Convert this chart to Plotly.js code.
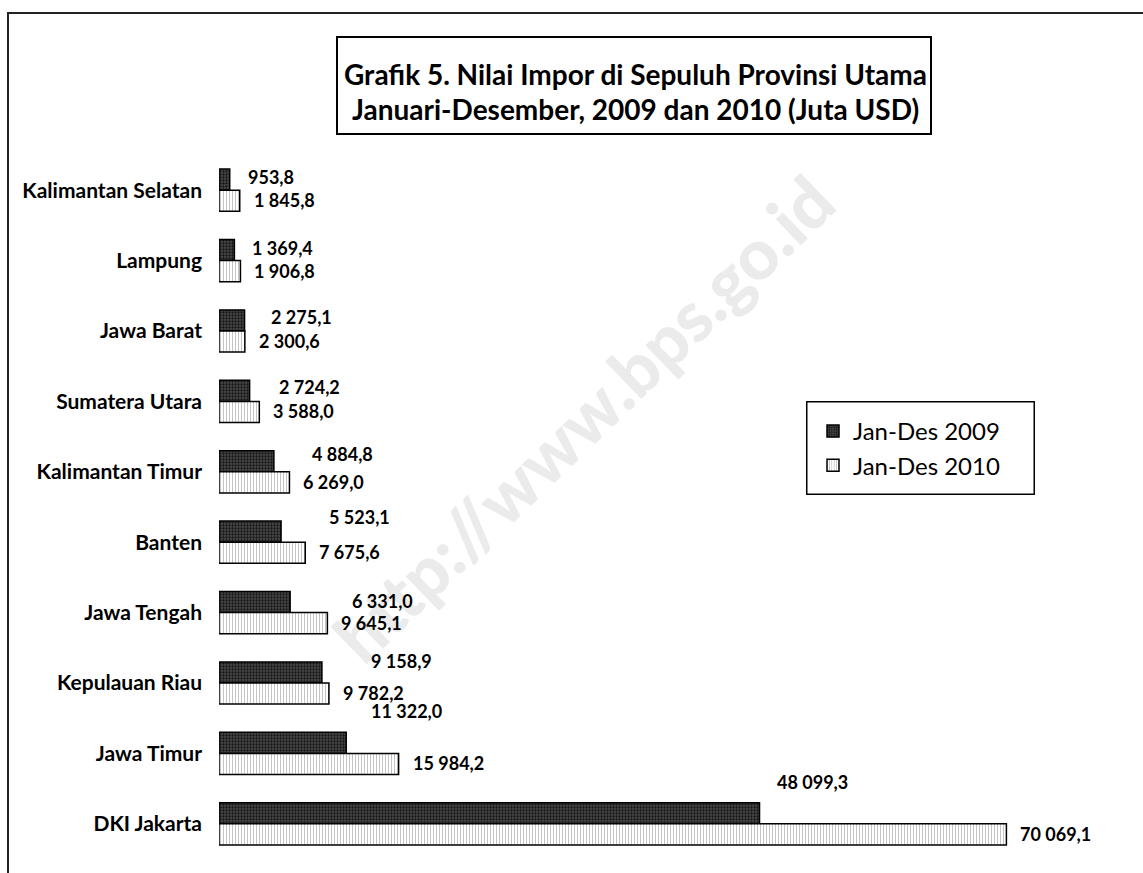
<!DOCTYPE html>
<html>
<head>
<meta charset="utf-8">
<script src="https://cdn.plot.ly/plotly-3.0.1.min.js"></script>
<style>
  html, body { margin: 0; padding: 0; background: #fff; }
  #wrap { position: relative; width: 1143px; height: 873px; overflow: hidden; background: #fff; }
  #wm { position: absolute; left: 583px; top: 418px; transform: translate(-50%, -50%) rotate(-44deg);
        font-family: Lato, "Open Sans", sans-serif; font-weight: 900; font-size: 70px; color: #ebebeb;
        white-space: nowrap; z-index: 0; }
  #chart { position: absolute; left: 0; top: 0; width: 1143px; height: 873px; z-index: 1; }
  #frame { position: absolute; left: 7px; top: 12px; width: 1200px; height: 900px;
           border-left: 2px solid #222; border-top: 2px solid #222; z-index: 2; pointer-events: none; }
</style>
</head>
<body>
<div id="wrap">
  <div id="wm">http://www.bps.go.id</div>
  <div id="chart"></div>
  <div id="frame"></div>
</div>
<script>
// ---- data ----
const provinces = ["Kalimantan Selatan", "Lampung", "Jawa Barat", "Sumatera Utara", "Kalimantan Timur",
                   "Banten", "Jawa Tengah", "Kepulauan Riau", "Jawa Timur", "DKI Jakarta"];
const values2009 = [953.8, 1369.4, 2275.1, 2724.2, 4884.8, 5523.1, 6331.0, 9158.9, 11322.0, 48099.3];
const values2010 = [1845.8, 1906.8, 2300.6, 3588.0, 6269.0, 7675.6, 9645.1, 9782.2, 15984.2, 70069.1];
const seriesNames = ["Jan-Des 2009", "Jan-Des 2010"];
const titleLines = ["Grafik 5. Nilai Impor di Sepuluh Provinsi Utama",
                    "Januari-Desember, 2009 dan 2010 (Juta USD)"];

// label nudges (style only, pixels) for the 2009 value labels as placed in the original
const nudge2009X = [16, 16, 24, 27, 36, 46, 60, 47, 23, 15];
const nudge2009Y = [13, 13, 14, 14, 18, 25, 12, 22, 42, 42];

// ---- layout geometry ----
const W = 1143, H = 873, ML = 219, MR = 25, MT = 155, MB = 14;
const PW = W - ML - MR, PH = H - MT - MB;
const xp = x => (x - ML) / PW;
const yp = y => (H - MB - y) / PH;

function fmt(v) {
  const parts = v.toFixed(1).split(".");
  return parts[0].replace(/\B(?=(\d{3})+(?!\d))/g, " ") + "," + parts[1];
}

const FONT = "Lato, 'Open Sans', sans-serif";

const traces = [
  {
    type: "bar", orientation: "h", name: seriesNames[0],
    y: provinces, x: values2009,
    marker: {
      color: "#424242",
      pattern: { shape: ".", fgcolor: "#141414", bgcolor: "#4a4a4a", size: 3, solidity: 0.45, fillmode: "replace" },
      line: { color: "#000", width: 1.5 }
    },
    hoverinfo: "x+y"
  },
  {
    type: "bar", orientation: "h", name: seriesNames[1],
    y: provinces, x: values2010,
    marker: {
      color: "#ffffff",
      pattern: { shape: "|", fgcolor: "#c4c4c4", bgcolor: "#ffffff", size: 3, solidity: 0.35, fillmode: "replace" },
      line: { color: "#000", width: 1.5 }
    },
    hoverinfo: "x+y"
  }
];

const annotations = [];
provinces.forEach((p, i) => {
  annotations.push({
    x: values2009[i], y: i, xref: "x", yref: "y", text: fmt(values2009[i]),
    showarrow: false, xanchor: "left", yanchor: "middle",
    xshift: nudge2009X[i], yshift: nudge2009Y[i],
    font: { family: FONT, size: 18, color: "#000", weight: "bold" }
  });
  annotations.push({
    x: values2010[i], y: i, xref: "x", yref: "y", text: fmt(values2010[i]),
    showarrow: false, xanchor: "left", yanchor: "middle",
    xshift: 12, yshift: -10,
    font: { family: FONT, size: 18, color: "#000", weight: "bold" }
  });
});

// title box + lines
annotations.push({
  x: xp(634), y: yp(85.5), xref: "paper", yref: "paper", text: " ",
  showarrow: false, xanchor: "center", yanchor: "middle",
  width: 592, height: 95, bordercolor: "#000", borderwidth: 2, borderpad: 0, bgcolor: "rgba(255,255,255,0)"
});
annotations.push({
  x: xp(635), y: yp(74), xref: "paper", yref: "paper", text: titleLines[0],
  showarrow: false, xanchor: "center", yanchor: "middle",
  font: { family: FONT, size: 28, color: "#000", weight: "bold" }
});
annotations.push({
  x: xp(635), y: yp(109), xref: "paper", yref: "paper", text: titleLines[1],
  showarrow: false, xanchor: "center", yanchor: "middle",
  font: { family: FONT, size: 28, color: "#000", weight: "bold" }
});
// legend frame
annotations.push({
  x: xp(920), y: yp(447.5), xref: "paper", yref: "paper", text: " ",
  showarrow: false, xanchor: "center", yanchor: "middle",
  width: 226, height: 91, bordercolor: "#000", borderwidth: 1.5, borderpad: 0, bgcolor: "rgba(255,255,255,0)"
});

const layout = {
  width: W, height: H,
  margin: { l: ML, r: MR, t: MT, b: MB, pad: 0, autoexpand: false },
  paper_bgcolor: "rgba(0,0,0,0)", plot_bgcolor: "rgba(0,0,0,0)",
  barmode: "group", bargap: 0.4, bargroupgap: 0,
  showlegend: true,
  legend: {
    x: xp(813), y: yp(409), xanchor: "left", yanchor: "top",
    bgcolor: "rgba(255,255,255,0)", borderwidth: 0,
    font: { family: FONT, size: 24, color: "#000" },
    traceorder: "normal"
  },
  xaxis: { range: [0, 80000], autorange: false, visible: false, fixedrange: true, automargin: false },
  yaxis: {
    type: "category", categoryarray: provinces, categoryorder: "array",
    range: [provinces.length - 0.5, -0.5], autorange: false,
    showline: false, showgrid: false, zeroline: false,
    ticks: "", ticklabelstandoff: 16, automargin: false,
    tickfont: { family: FONT, size: 21, color: "#000", weight: "bold" }
  },
  annotations: annotations,
  font: { family: FONT }
};

Plotly.newPlot("chart", traces, layout, { displayModeBar: false, staticPlot: true });
</script>
</body>
</html>
